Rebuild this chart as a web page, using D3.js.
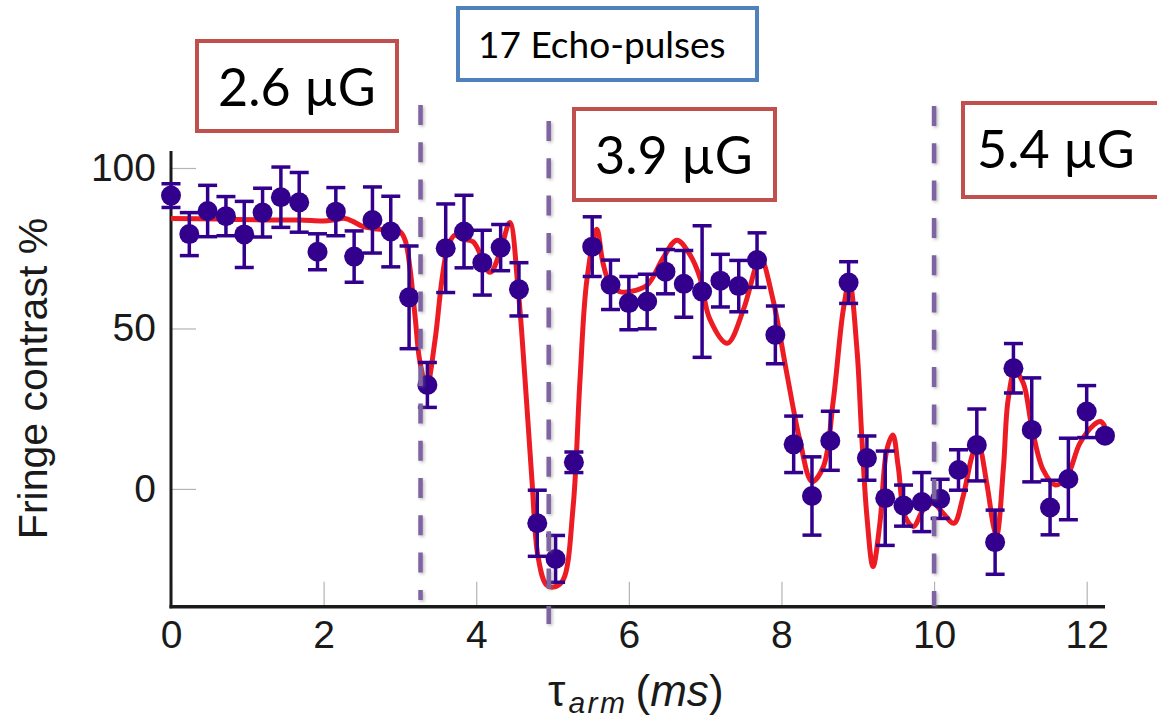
<!DOCTYPE html>
<html>
<head>
<meta charset="utf-8">
<script src="https://cdn.jsdelivr.net/npm/d3@7"></script>
<style>
  html, body { margin: 0; padding: 0; background: #ffffff; }
  svg { display: block; }
</style>
</head>
<body>
<svg id="chart" width="1157" height="721"></svg>
<script>
// Measured fringe contrast versus arm time, with error bars
const times = [0, 0.24, 0.48, 0.72, 0.96, 1.2, 1.44, 1.68, 1.92, 2.16, 2.4, 2.64, 2.88, 3.12, 3.36, 3.6, 3.84, 4.08, 4.32, 4.56, 4.8, 5.04, 5.28, 5.52, 5.76, 6.0, 6.24, 6.48, 6.72, 6.96, 7.2, 7.44, 7.68, 7.92, 8.16, 8.4, 8.64, 8.88, 9.12, 9.36, 9.6, 9.84, 10.08, 10.32, 10.56, 10.8, 11.04, 11.28, 11.52, 11.76, 12.0, 12.24];
const contrast = [91.4, 79.4, 86.6, 85.0, 79.3, 86.1, 90.9, 89.3, 73.9, 86.4, 72.4, 83.8, 80.2, 59.7, 32.4, 75.0, 80.2, 70.5, 75.2, 62.2, -10.7, -21.8, 8.3, 75.5, 63.6, 57.9, 58.4, 67.7, 63.9, 61.5, 64.9, 63.2, 71.3, 48.0, 13.9, -2.2, 15.0, 64.3, 9.6, -2.9, -5.2, -4.1, -3.1, 5.9, 13.7, -16.6, 37.6, 18.4, -5.8, 3.1, 24.1, 16.6];
const errors = [3.7, 6.7, 8.0, 6.1, 10.3, 7.6, 9.4, 9.3, 5.6, 7.5, 8.0, 10.3, 11.0, 16.0, 7.0, 13.8, 11.3, 10.1, 7.2, 8.3, 10.3, 7.3, 3.2, 9.3, 7.7, 8.3, 8.5, 6.9, 10.4, 20.5, 8.2, 8.0, 8.5, 9.0, 8.8, 12.2, 9.2, 6.5, 6.9, 14.7, 6.4, 9.2, 6.1, 6.3, 11.2, 10.0, 7.7, 16.2, 8.5, 12.7, 8.1, 0];

// Fitted model curve
const fitTimes = [0, 0.6, 1.25, 1.69, 2.0, 2.13, 2.28, 2.39, 2.52, 2.70, 2.87, 3.0, 3.07, 3.13, 3.2, 3.26, 3.35, 3.46, 3.55, 3.63, 3.72, 3.81, 3.96, 4.18, 4.31, 4.44, 4.55, 4.64, 4.73, 4.81, 4.92, 5.03, 5.14, 5.27, 5.36, 5.45, 5.58, 5.66, 5.75, 5.88, 6.02, 6.24, 6.45, 6.63, 6.80, 6.93, 7.06, 7.29, 7.50, 7.68, 7.73, 7.89, 8.07, 8.24, 8.40, 8.55, 8.68, 8.81, 8.89, 8.99, 9.05, 9.12, 9.20, 9.29, 9.38, 9.46, 9.53, 9.62, 9.73, 9.86, 9.99, 10.12, 10.26, 10.38, 10.51, 10.58, 10.69, 10.78, 10.82, 10.91, 10.97, 11.06, 11.17, 11.28, 11.43, 11.59, 11.74, 11.91, 12.09, 12.18, 12.24];
const fitValues = [84.3, 84.1, 83.8, 83.8, 83.5, 83.8, 84.3, 83.3, 81.7, 81.0, 80.7, 80.2, 77.4, 69.1, 53.4, 39.9, 31.9, 46.4, 65.1, 75.5, 79.1, 77.9, 77.0, 67.5, 73.6, 83.0, 62, 34, 2.8, -21.1, -29.9, -30.5, -28.3, -5.5, 34, 65.1, 80.9, 70.5, 64, 61.5, 61.5, 63.5, 72, 77.5, 73, 66, 53, 45.4, 55.8, 70.3, 72, 58.9, 36, 15.3, 2.3, 7, 27.7, 55.8, 64.5, 43.3, 17.4, -8.6, -24.2, -10.7, 12.1, 16.8, 7, -8.6, -11.7, -6.5, -4.5, -7.6, -10.7, -2.4, 11.1, 13.7, 1.8, -11.7, -14.5, 7, 27.7, 36.6, 32.9, 19.4, 5.9, 1.2, 3.8, 14.2, 19.9, 21, 19.4];

// Axis ticks
const xTicks = [0, 2, 4, 6, 8, 10, 12];
const yTicks = [0, 50, 100];

// Segment boundaries and field labels
const boundaryTimes = [3.27, 4.95, 10.0];
const fieldLabels = ["2.6 \u00B5G", "3.9 \u00B5G", "5.4 \u00B5G"];
const pulseLabel = "17 Echo-pulses";

const svg = d3.select("#chart");

const x = d3.scaleLinear().domain([0, 12.24]).range([171, 1105]);
const y = d3.scaleLinear().domain([-36.7, 105.3]).range([606.7, 151]);

const defs = svg.append("defs");
const shadow = defs.append("filter").attr("id", "dashShadow")
  .attr("filterUnits", "userSpaceOnUse")
  .attr("x", 0).attr("y", 0).attr("width", 1157).attr("height", 721);
shadow.append("feDropShadow").attr("dx", 1.5).attr("dy", 1.5).attr("stdDeviation", 1.5)
  .attr("flood-color", "#777").attr("flood-opacity", 0.5);

// Axes
const fontAxis = "'Liberation Sans', Arial, sans-serif";

const xAxis = d3.axisBottom(x).tickValues(xTicks).tickSizeInner(-25).tickSizeOuter(0).tickPadding(14)
  .tickFormat(d3.format("d"));
const gx = svg.append("g").attr("transform", `translate(0,${y.range()[0]})`).call(xAxis);
gx.select(".domain").remove();
gx.selectAll(".tick line").attr("stroke", "#b4b4b4").attr("stroke-width", 1.2);
gx.selectAll(".tick text").attr("font-family", fontAxis).attr("font-size", 39).attr("fill", "#1a1a1a");

const yAxis = d3.axisLeft(y).tickValues(yTicks).tickSizeInner(-25).tickSizeOuter(0).tickPadding(15)
  .tickFormat(d3.format("d"));
const gy = svg.append("g").attr("transform", `translate(${x.range()[0]},0)`).call(yAxis);
gy.select(".domain").remove();
gy.selectAll(".tick line").attr("stroke", "#b4b4b4").attr("stroke-width", 1.2);
gy.selectAll(".tick text").attr("font-family", fontAxis).attr("font-size", 39).attr("fill", "#1a1a1a");

// Axis spines
svg.append("line")
  .attr("x1", x.range()[0]).attr("x2", x.range()[0])
  .attr("y1", y.range()[1]).attr("y2", y.range()[0] + 1.5)
  .attr("stroke", "#1a1a1a").attr("stroke-width", 3);
svg.append("line")
  .attr("x1", x.range()[0] - 1.5).attr("x2", x.range()[1])
  .attr("y1", y.range()[0]).attr("y2", y.range()[0])
  .attr("stroke", "#1a1a1a").attr("stroke-width", 3.5);

// Axis titles
svg.append("text")
  .attr("transform", `translate(47,${(540 + 217) / 2}) rotate(-90)`)
  .attr("text-anchor", "middle")
  .attr("font-family", fontAxis).attr("font-size", 41).attr("fill", "#1a1a1a")
  .text("Fringe contrast %");

const xt = svg.append("text")
  .attr("x", 548).attr("y", 706)
  .attr("font-family", fontAxis).attr("font-size", 44).attr("fill", "#1a1a1a");
xt.append("tspan").text("\u03C4");
xt.append("tspan").attr("font-size", 30).attr("font-style", "italic").attr("dy", 7)
  .attr("dx", 3).attr("letter-spacing", 2.5).text("arm");
xt.append("tspan").attr("dy", -7).attr("dx", 8).text("(");
xt.append("tspan").attr("font-style", "italic").text("ms");
xt.append("tspan").text(")");

// Fit curve
const fitLine = d3.line()
  .x((d, i) => x(fitTimes[i]))
  .y(d => y(d))
  .curve(d3.curveCatmullRom.alpha(0.5));
svg.append("path")
  .attr("d", fitLine(fitValues))
  .attr("fill", "none")
  .attr("stroke", "#ed1c24")
  .attr("stroke-width", 5)
  .attr("stroke-linejoin", "round");

// Error bars and points
const ptColor = "#32008c";
const pts = svg.append("g");
times.forEach((t, i) => {
  const cx = x(t), v = contrast[i], e = errors[i];
  if (e > 0) {
    const yTop = y(v + e), yBot = y(v - e);
    pts.append("line").attr("x1", cx).attr("x2", cx).attr("y1", yTop).attr("y2", yBot)
      .attr("stroke", ptColor).attr("stroke-width", 3.5);
    [yTop, yBot].forEach(yy => {
      pts.append("line").attr("x1", cx - 9.5).attr("x2", cx + 9.5).attr("y1", yy).attr("y2", yy)
        .attr("stroke", ptColor).attr("stroke-width", 3.5);
    });
  }
});
pts.selectAll("circle").data(times).join("circle")
  .attr("cx", d => x(d))
  .attr("cy", (d, i) => y(contrast[i]))
  .attr("r", 10)
  .attr("fill", ptColor);

// Segment boundary markers
const lineSpans = [[105, 600], [121, 624], [106, 606]];
const markers = svg.append("g").attr("filter", "url(#dashShadow)");
boundaryTimes.forEach((t, i) => {
  markers.append("line")
    .attr("x1", x(t)).attr("x2", x(t))
    .attr("y1", lineSpans[i][0]).attr("y2", lineSpans[i][1])
    .attr("stroke", "#8064a2").attr("stroke-width", 4.5)
    .attr("stroke-dasharray", "20,17.3");
});

// Annotation boxes
const boxFont = "Lato, 'Open Sans', sans-serif";
function labelBox(x0, y0, w, h, stroke, text, size, tx, ty) {
  svg.append("rect").attr("x", x0).attr("y", y0).attr("width", w).attr("height", h)
    .attr("fill", "#ffffff").attr("stroke", stroke).attr("stroke-width", 4);
  svg.append("text").attr("x", tx).attr("y", ty)
    .attr("font-family", boxFont).attr("font-size", size).attr("fill", "#000")
    .text(text);
}
labelBox(197, 41, 200, 90, "#c0504d", fieldLabels[0], 52, 218, 106);
labelBox(458, 8, 299, 72, "#4f81bd", pulseLabel, 37, 478, 58);
labelBox(574, 109, 201, 91, "#c0504d", fieldLabels[1], 52, 595, 174);
labelBox(963, 103, 200, 94, "#c0504d", fieldLabels[2], 52, 977, 168);
</script>
</body>
</html>
